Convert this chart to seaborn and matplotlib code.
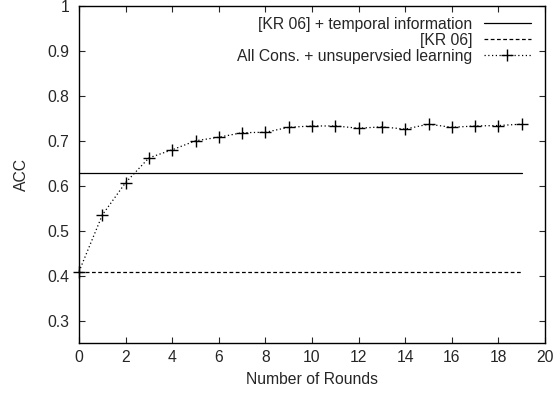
import numpy as np
import pandas as pd
import matplotlib
matplotlib.use('Agg')
import matplotlib.pyplot as plt
import seaborn as sns
from matplotlib.ticker import MultipleLocator, FuncFormatter

sns.set_style('ticks')
plt.rcParams['font.family'] = ['Liberation Sans', 'DejaVu Sans']
fs = 11.3
plt.rcParams['font.size'] = fs

rounds = list(range(20))
acc_unsup = [0.409, 0.535, 0.607, 0.662, 0.680, 0.700, 0.708, 0.718, 0.719, 0.730,
             0.733, 0.733, 0.728, 0.731, 0.726, 0.737, 0.730, 0.733, 0.734, 0.737]
kr06_temporal = 0.629
kr06 = 0.409

labels = ['[KR 06] + temporal information', '[KR 06]',
          'All Cons. + unsupervsied learning']

df = pd.DataFrame({
    'round': rounds * 3,
    'acc': [kr06_temporal] * len(rounds) + [kr06] * len(rounds) + acc_unsup,
    'method': [labels[0]] * len(rounds) + [labels[1]] * len(rounds) + [labels[2]] * len(rounds),
})

fig = plt.figure(figsize=(5.58, 3.94), dpi=100)
ax = fig.add_axes([0.1416, 0.1294, 0.8351, 0.8554])

styles = {
    labels[0]: dict(ls='-', marker=None),
    labels[1]: dict(ls=(0, (3, 2)), marker=None),
    labels[2]: dict(ls=(0, (1, 2)), marker='+'),
}
for lab in labels:
    sub = df[df['method'] == lab]
    st = styles[lab]
    sns.lineplot(data=sub, x='round', y='acc', ax=ax, color='black', lw=0.9,
                 linestyle=st['ls'], marker=st['marker'], markersize=8,
                 markeredgewidth=1.0, markeredgecolor='black', label=lab,
                 clip_on=False)

ax.set_xlim(0, 20)
ax.set_ylim(0.25, 1.0)
ax.xaxis.set_major_locator(MultipleLocator(2))
ax.yaxis.set_major_locator(MultipleLocator(0.1))
ax.yaxis.set_major_formatter(FuncFormatter(lambda v, p: '%g' % round(v, 2)))
ax.tick_params(direction='in', top=True, right=True, length=4, width=0.8,
               labelsize=fs)
ax.tick_params(axis='x', pad=5)
ax.tick_params(axis='y', pad=7)
for s in ax.spines.values():
    s.set_linewidth(1.0)
    s.set_color('black')

ax.set_xlabel('Number of Rounds', fontsize=fs, labelpad=5)
ax.set_ylabel('ACC', fontsize=fs, labelpad=13)

ax.legend(loc='upper right', frameon=False, markerfirst=False,
          fontsize=fs, handlelength=3.0, handletextpad=0.7,
          labelspacing=0.05, borderaxespad=0.3, bbox_to_anchor=(0.993, 1.0))

fig.savefig('out.png', dpi=100)
